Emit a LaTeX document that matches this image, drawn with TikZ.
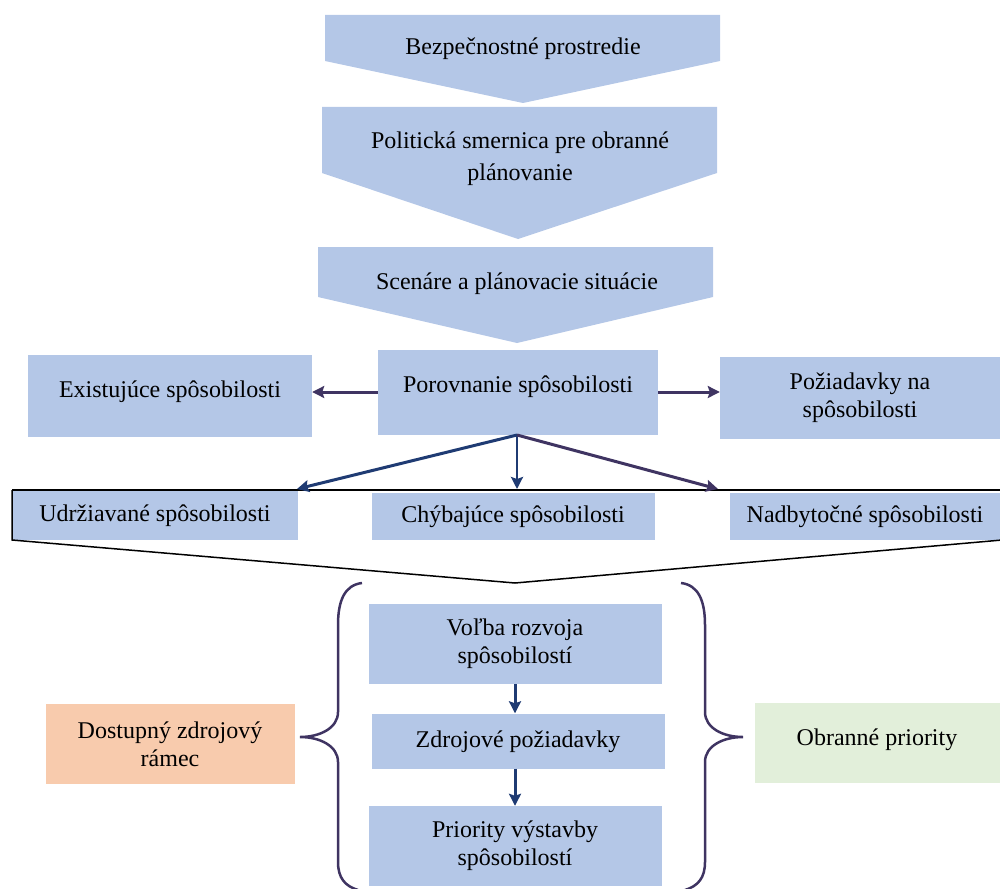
\documentclass[tikz,border=0pt]{standalone}
\usepackage{fontspec}
\setmainfont{Liberation Serif}
\usetikzlibrary{arrows.meta}
\definecolor{boxblue}{HTML}{B4C7E7}
\definecolor{navy}{HTML}{1F3B73}
\definecolor{purp}{HTML}{3F3462}
\definecolor{orng}{HTML}{F8CBAD}
\definecolor{grn}{HTML}{E2EFDA}
\begin{document}
\begin{tikzpicture}[x=1pt,y=-1pt,
  txt/.style={align=center, inner sep=0pt, font=\fontsize{24}{28}\selectfont},
  box/.style={txt, fill=boxblue, draw=none},
  chev/.style={fill=boxblue, draw=none},
  arrn/.style={-{Stealth[length=12pt,width=12pt,inset=2pt]}, line width=3pt, navy},
  arrp/.style={-{Stealth[length=12pt,width=12pt,inset=2pt]}, line width=3pt, purp},
  brace/.style={draw=purp, line width=2.5pt},
  outline/.style={draw=black, line width=1.5pt}]
\useasboundingbox (0,0) rectangle (1000,888);
% chevrons
\fill[chev] (325,15) -- (720,15) -- (720,61) -- (523,103) -- (325,61) -- cycle;
\node[txt] (bez) at (523,49) {Bezpečnostné prostredie};
\fill[chev] (322,107) -- (717,107) -- (717,173) -- (518,239) -- (322,173) -- cycle;
\node[txt] (pol) at (520,159) {Politická smernica pre obranné\\[4pt]plánovanie};
\fill[chev] (318,247) -- (713,247) -- (713,297) -- (517,343) -- (318,297) -- cycle;
\node[txt] (sce) at (517,284) {Scenáre a plánovacie situácie};
% row 2
\node[box, minimum width=284, minimum height=82, text height=19pt, text depth=17pt] (exist) at (170,396) {Existujúce spôsobilosti};
\node[box, minimum width=280, minimum height=85, text height=19pt, text depth=18pt] (porov) at (518,392) {Porovnanie spôsobilosti};
\node[box, minimum width=280, minimum height=82] (poz) at (860,398) {Požiadavky na\\spôsobilosti};
\draw[arrp] (porov.west) -- (porov.west -| exist.east);
\draw[arrp] (porov.east) -- (porov.east -| poz.west);
% row 3
\node[box, minimum width=285, minimum height=50, text height=19pt] (udr) at (155,515) {Udržiavané spôsobilosti};
\node[box, minimum width=283, minimum height=47, text height=19pt] (chy) at (513,516) {Chýbajúce spôsobilosti};
\node[box, minimum width=270, minimum height=47, text height=19pt] (nad) at (865,516) {Nadbytočné spôsobilosti};
\coordinate (outl) at (12,490);
\coordinate (outr) at (1002,490);
\coordinate (outtip) at (515,583);
\draw[outline] (outl) -- (outr);
\draw[outline] (outl) -- (12,540) -- (outtip) -- (1002,540);
\coordinate (fork) at (517,435);
\coordinate (tu) at (297,489);
\coordinate (tc) at (517,489);
\coordinate (tn) at (718,489);
\draw[arrn] (fork) -- (tu);
\draw[arrn, line width=2.5pt] (fork) -- (tc);
\draw[arrp] (fork) -- (tn);
% lower column
\node[box, minimum width=293, minimum height=80] (vol) at (515,644) {Voľba rozvoja\\spôsobilostí};
\node[box, minimum width=293, minimum height=55, text height=19pt] (zdr) at (518,741) {Zdrojové požiadavky};
\node[box, minimum width=293, minimum height=80] (pri) at (515,846) {Priority výstavby\\spôsobilostí};
\draw[arrn] (vol.south) -- (vol.south |- zdr.north);
\draw[arrn] (zdr.south -| vol.south) -- (vol.south |- pri.north);
% side boxes
\node[txt, fill=orng, minimum width=249, minimum height=80] (dost) at (170,744) {Dostupný zdrojový\\rámec};
\node[txt, fill=grn, minimum width=245, minimum height=80, text height=19pt, text depth=14pt] (obr) at (877,743) {Obranné priority};
% braces
\draw[brace] (362,583) .. controls (345,585) and (338,600) .. (338,625) -- (338,712) .. controls (338,728) and (320,737) .. (300,737) .. controls (320,737) and (338,746) .. (338,762) -- (338,862) .. controls (338,878) and (345,886) .. (358,890);
\draw[brace] (681,583) .. controls (698,585) and (705,600) .. (705,625) -- (705,712) .. controls (705,728) and (723,737) .. (743,737) .. controls (723,737) and (705,746) .. (705,762) -- (705,862) .. controls (705,878) and (698,886) .. (685,890);
\end{tikzpicture}
\end{document}
